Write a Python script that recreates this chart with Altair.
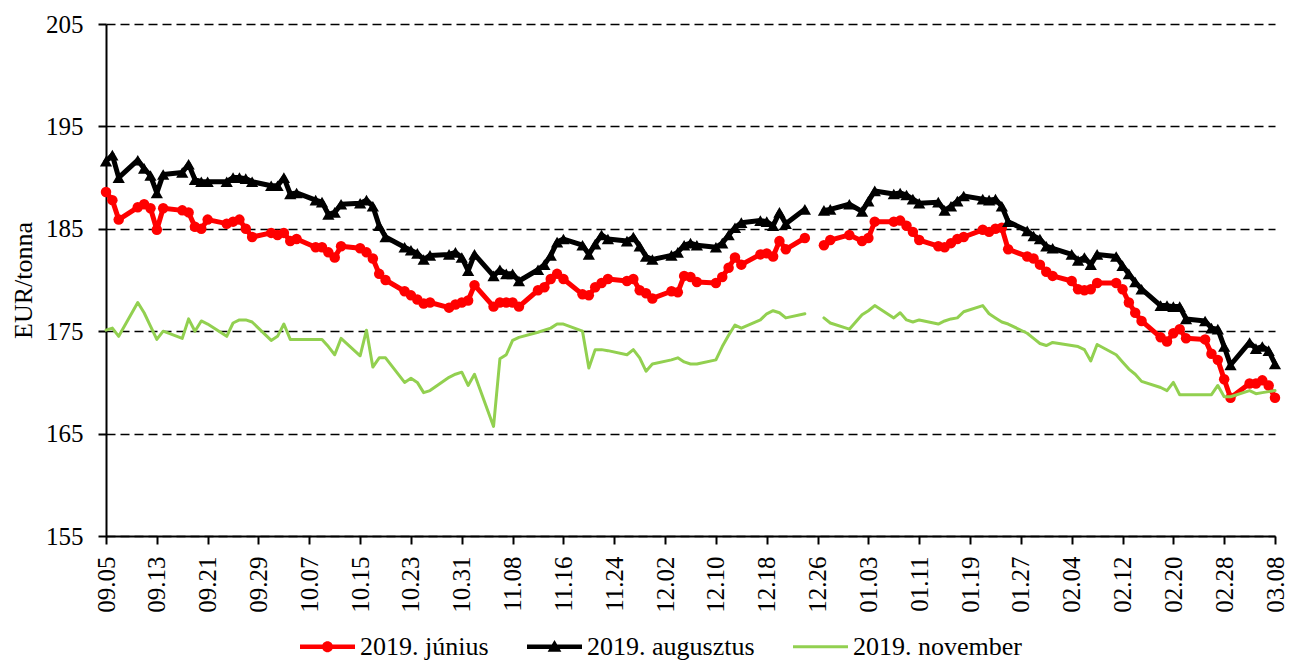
import json
import pandas as pd
import altair as alt

# ---------------- data ----------------
START = "2018-09-05"
END = "2019-03-08"
closed_days = ["2018-12-25", "2018-12-26", "2019-01-01"]
break_after = "2018-12-24"   # the lines break across the Christmas closure

tick_labels = ["09.05", "09.13", "09.21", "09.29", "10.07", "10.15", "10.23", "10.31",
               "11.08", "11.16", "11.24", "12.02", "12.10", "12.18", "12.26", "01.03",
               "01.11", "01.19", "01.27", "02.04", "02.12", "02.20", "02.28", "03.08"]
y_ticks = [155, 165, 175, 185, 195, 205]

series_names = ["2019. június", "2019. augusztus", "2019. november"]
series_colors = ["#FF0000", "#000000", "#92D050"]

june = [
    # Sep
    188.6, 187.8, 185.9, 187.1, 187.4, 187.0, 184.9, 187.0, 186.8, 186.6, 185.2, 185.0, 185.9,
    185.5, 185.7, 185.9, 185.0, 184.2,
    # Oct
    184.6, 184.4, 184.6, 183.8, 184.0, 183.2, 183.2, 182.7, 182.2, 183.3, 183.1, 182.7, 182.1,
    180.6, 180.0, 178.9, 178.5, 178.1, 177.7, 177.8, 177.3, 177.6, 177.8,
    # Nov
    178.0, 179.5, 177.4, 177.8, 177.8, 177.8, 177.4, 179.0, 179.3, 180.1, 180.6, 180.1, 178.6,
    178.5, 179.3, 179.7, 180.1, 179.9, 180.1, 179.0, 178.7, 178.2,
    # Dec
    178.9, 178.8, 180.4, 180.3, 179.8, 179.7, 180.3, 181.2, 182.2, 181.5, 182.5, 182.6, 182.3,
    183.8, 183.0, 184.1, 183.4, 183.9, 184.4,
    # Jan
    183.8, 184.1, 185.7, 185.7, 185.8, 185.3, 184.7, 183.9, 183.3, 183.2, 183.6, 184.0, 184.2,
    184.9, 184.7, 185.0, 185.1, 183.0, 182.3, 182.1, 181.5, 180.8,
    # Feb
    180.4, 179.9, 179.1, 179.0, 179.1, 179.7, 179.7, 179.1, 177.8, 176.8, 176.0, 174.4, 174.0,
    174.8, 175.2, 174.3, 174.2, 172.8, 172.2, 170.3,
    # Mar
    168.5, 169.9, 169.9, 170.2, 169.7, 168.5,
]

august = [
    # Sep
    191.6, 192.2, 190.0, 191.7, 190.9, 190.2, 188.5, 190.3, 190.5, 191.3, 189.8, 189.6, 189.6,
    189.6, 190.0, 190.0, 189.9, 189.6,
    # Oct
    189.2, 189.2, 190.0, 188.4, 188.5, 187.8, 187.6, 186.4, 186.6, 187.4, 187.5, 187.8, 187.2,
    185.3, 184.2, 183.2, 182.9, 182.6, 182.0, 182.4, 182.5, 182.7, 182.2,
    # Nov
    180.9, 182.5, 180.4, 181.0, 180.6, 180.6, 179.9, 181.0, 181.5, 182.4, 183.7, 184.0, 183.4,
    182.5, 183.5, 184.4, 184.0, 183.8, 184.2, 183.3, 182.3, 182.0,
    # Dec
    182.4, 182.7, 183.4, 183.6, 183.4, 183.2, 183.6, 184.4, 185.1, 185.6, 185.8, 185.7, 185.3,
    186.6, 185.5, 186.9, 186.8, 186.9, 187.4,
    # Jan
    186.7, 187.7, 188.7, 188.4, 188.5, 188.3, 187.9, 187.5, 187.6, 186.8, 187.2, 187.7, 188.2,
    187.9, 187.8, 187.9, 187.2, 185.7, 184.8, 184.3, 184.0, 183.3,
    # Feb
    183.1, 182.5, 181.9, 182.2, 181.5, 182.5, 182.3, 181.4, 180.6, 179.8, 179.1, 177.5, 177.5,
    177.4, 177.4, 176.2, 176.0, 175.3, 175.2, 173.5,
    # Mar
    171.7, 173.9, 173.3, 173.5, 173.1, 171.8,
]

november = [
    # Sep
    175.1, 175.3, 174.5, 177.8, 176.8, 175.5, 174.2, 175.0, 174.3, 176.2, 175.0, 176.0, 175.7,
    174.5, 175.8, 176.1, 176.1, 175.9,
    # Oct
    174.1, 174.5, 175.7, 174.2, 174.2, 174.2, 174.2, 173.5, 172.7, 174.3, 172.6, 175.1, 171.5,
    172.4, 172.4, 170.0, 170.4, 170.0, 169.0, 169.2, 170.5, 170.8, 171.0,
    # Nov
    169.7, 170.8, 165.7, 172.3, 172.7, 174.1, 174.4, 174.9, 175.1, 175.3, 175.7, 175.7, 175.0,
    171.4, 173.2, 173.2, 173.1, 172.7, 173.2, 172.4, 171.1, 171.8,
    # Dec
    172.2, 172.4, 172.0, 171.8, 171.8, 172.2, 173.5, 174.6, 175.6, 175.3, 176.1, 176.7, 177.0,
    176.8, 176.3, 176.7, 176.3, 175.8, 175.2,
    # Jan
    176.6, 177.0, 177.5, 176.3, 176.8, 176.1, 175.9, 176.1, 175.7, 176.0, 176.2, 176.3, 176.9,
    177.5, 176.7, 176.3, 175.9, 175.7, 174.8, 174.3, 173.8, 173.6,
    # Feb
    173.9, 173.6, 173.5, 173.2, 172.1, 173.7, 172.7, 172.0, 171.3, 170.8, 170.1, 169.5, 169.2,
    170.0, 168.8, 168.8, 168.8, 168.8, 169.7, 168.6,
    # Mar
    168.6, 169.2, 168.9, 169.0, 169.1, 169.2,
]

# ---------------- table ----------------
start = pd.Timestamp(START)
dates = [d for d in pd.bdate_range(START, END) if d.strftime("%Y-%m-%d") not in closed_days]
assert len(dates) == len(june) == len(august) == len(november), (len(dates), len(june), len(august), len(november))

rows = []
for name, vals in zip(series_names, [june, august, november]):
    for d, v in zip(dates, vals):
        rows.append({
            "series": name,
            "day": (d - start).days,
            "value": v,
            "seg": 0 if d <= pd.Timestamp(break_after) else 1,
        })
df = pd.DataFrame(rows)
total_days = (pd.Timestamp(END) - start).days

FONT = "Liberation Serif"

label_expr = json.dumps(tick_labels) + "[round(datum.value / 8)]"
x_enc = alt.X(
    "day:Q",
    scale=alt.Scale(domain=[0, total_days], nice=False, zero=False),
    axis=alt.Axis(values=list(range(0, total_days + 1, 8)), labelExpr=label_expr, title=None,
                  labelAngle=270, grid=False, labelFlush=False, labelOverlap=False,
                  labelPadding=12),
)
y_enc = alt.Y(
    "value:Q",
    scale=alt.Scale(domain=[155, 205], nice=False, zero=False),
    axis=alt.Axis(values=y_ticks, title="EUR/tonna", grid=True, labelPadding=15,
                  titlePadding=9),
)

base = alt.Chart(df)


def line_layer(name, color, width):
    return base.transform_filter(alt.datum.series == name).mark_line(
        color=color, strokeWidth=width, strokeJoin="round", strokeCap="round"
    ).encode(x=x_enc, y=y_enc, detail="seg:N")


def point_layer(name, color, shape, size):
    return base.transform_filter(alt.datum.series == name).mark_point(
        shape=shape, filled=True, size=size, color=color, opacity=1, strokeWidth=0
    ).encode(x=x_enc, y=y_enc)


# legend symbols: line with marker (custom paths in the [-1, 1] box)
legend_paths = [
    "M-1,-0.085H1V0.085H-1Z M0.2,0A0.2,0.2,0,1,1,-0.2,0A0.2,0.2,0,1,1,0.2,0Z",
    "M-1,-0.085H1V0.085H-1Z M0,-0.25L0.25,0.18L-0.25,0.18Z",
    "M-1,-0.055H1V0.055H-1Z",
]
leg = alt.Legend(title=None, orient="none", legendX=194, legendY=595, direction="horizontal",
                 columns=3, symbolSize=3025, symbolStrokeWidth=0, labelOffset=5,
                 columnPadding=38, labelFont=FONT, labelFontSize=26, labelColor="black",
                 labelLimit=500, padding=0)
legend_layer = base.transform_filter("false").mark_point(filled=True, opacity=1, strokeWidth=0).encode(
    color=alt.Color("series:N", scale=alt.Scale(domain=series_names, range=series_colors), legend=leg),
    shape=alt.Shape("series:N", scale=alt.Scale(domain=series_names, range=legend_paths), legend=leg),
)

chart = alt.layer(
    line_layer(series_names[0], series_colors[0], 5),
    point_layer(series_names[0], series_colors[0], "circle", 110),
    line_layer(series_names[1], series_colors[1], 5),
    point_layer(series_names[1], series_colors[1], "triangle-up", 150),
    line_layer(series_names[2], series_colors[2], 3),
    legend_layer,
).properties(
    width=1169, height=512,
    autosize=alt.AutoSizeParams(type="none"),
    padding={"left": 98, "top": 16, "right": 14, "bottom": 125},
    background="white",
).configure(font=FONT).configure_view(stroke=None).configure_axis(
    labelFont=FONT, labelFontSize=25, labelColor="black",
    titleFont=FONT, titleFontSize=26, titleFontWeight="normal", titleColor="black",
    domainColor="black", domainWidth=2, tickColor="black", tickWidth=2, tickSize=8,
).configure_axisY(
    gridColor="black", gridDash=[9, 5], gridWidth=1.5, gridOpacity=1,
)

chart.save("out.html", embed_options={"renderer": "svg", "actions": False})
